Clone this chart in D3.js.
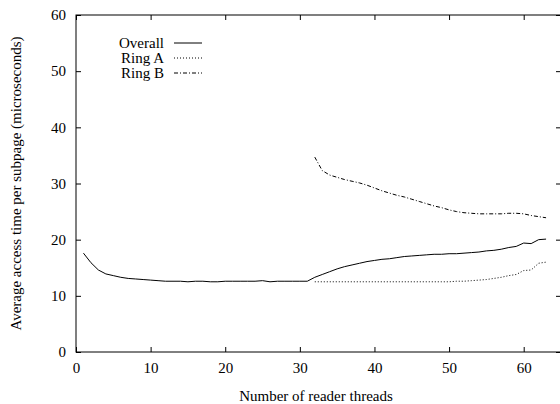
<!DOCTYPE html>
<html><head><meta charset="utf-8">
<script src="https://cdn.jsdelivr.net/npm/d3@7"></script>
<style>body{margin:0;background:#fff}svg{display:block}text{font-family:"Liberation Serif","Times New Roman",serif;fill:#000}</style>
</head><body><svg id="c" width="560" height="404"></svg>
<script>
const overallX = d3.range(1, 64);
const overallY = [17.6,15.9,14.6,13.9,13.6,13.3,13.1,13.0,12.9,12.8,12.7,12.6,12.6,12.6,12.5,12.6,12.6,12.5,12.5,12.6,12.6,12.6,12.6,12.6,12.7,12.5,12.6,12.6,12.6,12.6,12.6,
  13.3,13.8,14.3,14.8,15.2,15.5,15.8,16.1,16.3,16.5,16.6,16.8,17.0,17.1,17.2,17.3,17.4,17.4,17.5,17.5,17.6,17.7,17.8,18.0,18.1,18.3,18.6,18.8,19.4,19.3,20.0,20.1];
const ringX = d3.range(32, 64);
const ringAY = [12.5,12.5,12.5,12.5,12.5,12.5,12.5,12.5,12.5,12.5,12.5,12.5,12.5,12.5,12.5,12.5,12.5,12.5,12.5,12.6,12.6,12.7,12.8,12.9,13.1,13.3,13.6,13.8,14.5,14.6,15.8,16.0];
const ringBY = [34.7,32.3,31.5,31.1,30.7,30.4,30.1,29.7,29.2,28.7,28.3,27.9,27.6,27.2,26.8,26.4,26.0,25.7,25.3,25.0,24.8,24.7,24.6,24.6,24.6,24.6,24.7,24.7,24.6,24.3,24.1,23.9];
const xTicks = [0,10,20,30,40,50,60];
const yTicks = [0,10,20,30,40,50,60];
const seriesNames = ["Overall","Ring A","Ring B"];
const dashes = [null, "1,2", "4,2,1,2"];

const svg = d3.select("#c");
const L = 76, R = 561, T = 15, B = 352;
const x = d3.scaleLinear().domain([0,65]).range([L,R]);
const y = d3.scaleLinear().domain([0,60]).range([B,T]);

const tl = 5;
svg.append("rect").attr("x",L).attr("y",T).attr("width",R-L).attr("height",B-T)
  .attr("fill","none").attr("stroke","#000").attr("stroke-width",1);

const axB = svg.append("g").attr("transform",`translate(0,${B})`)
  .call(d3.axisBottom(x).tickValues(xTicks).tickSize(-tl).tickPadding(10));
const axT = svg.append("g").attr("transform",`translate(0,${T})`)
  .call(d3.axisTop(x).tickValues(xTicks).tickSize(-tl).tickFormat(""));
const axL = svg.append("g").attr("transform",`translate(${L},0)`)
  .call(d3.axisLeft(y).tickValues(yTicks).tickSize(-tl).tickPadding(10));
const axR = svg.append("g").attr("transform",`translate(${R},0)`)
  .call(d3.axisRight(y).tickValues(yTicks).tickSize(-tl).tickFormat(""));
[axB,axT,axL,axR].forEach(a=>{a.select(".domain").remove();
  a.selectAll("line").attr("stroke","#000");
  a.selectAll("text").style("font-family","Liberation Serif").style("font-size","15px").attr("fill","#000");});

const line = d3.line().x(d=>x(d[0])).y(d=>y(d[1]));
const data = [
  d3.zip(overallX, overallY),
  d3.zip(ringX, ringAY),
  d3.zip(ringX, ringBY)
];
data.forEach((d,i)=>{
  svg.append("path").datum(d).attr("d",line).attr("fill","none")
    .attr("stroke","#000").attr("stroke-width",1)
    .attr("stroke-dasharray",dashes[i]);
});

const ly = [43,58,73];
seriesNames.forEach((n,i)=>{
  svg.append("text").attr("x",164).attr("y",ly[i]+5).attr("text-anchor","end")
    .style("font-size","15px").text(n);
  svg.append("line").attr("x1",174).attr("x2",202).attr("y1",ly[i]).attr("y2",ly[i])
    .attr("stroke","#000").attr("stroke-width",1).attr("stroke-dasharray",dashes[i]);
});

svg.append("text").attr("x",(L+556)/2).attr("y",401).attr("text-anchor","middle")
  .style("font-size","15px").text("Number of reader threads");
svg.append("text").attr("transform",`translate(21,${(T+B)/2}) rotate(-90)`)
  .attr("text-anchor","middle").style("font-size","15px")
  .text("Average access time per subpage (microseconds)");
</script></body></html>
